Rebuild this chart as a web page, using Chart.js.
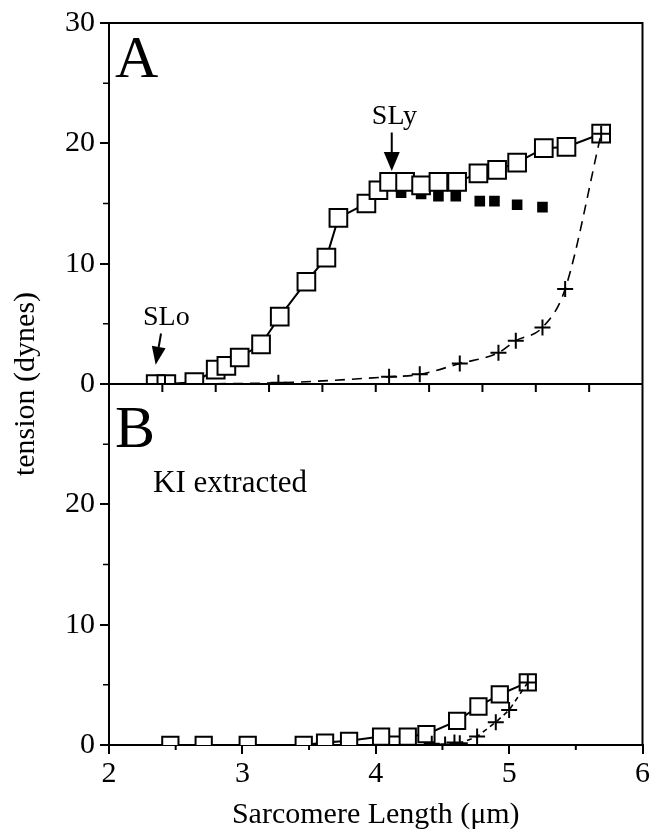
<!DOCTYPE html>
<html>
<head>
<meta charset="utf-8">
<title>Sarcomere length vs tension</title>
<script src="https://cdn.jsdelivr.net/npm/chart.js@4.4.1/dist/chart.umd.min.js"></script>
<style>
  html, body { margin: 0; padding: 0; background: #fff; }
</style>
</head>
<body>
<canvas id="sarcChart" width="657" height="833"></canvas>
<script>
// Panel A: open squares (solid line)
const aLength  = [2.35, 2.43, 2.64, 2.80, 2.88, 2.98, 3.14, 3.28, 3.48, 3.63, 3.72, 3.93, 4.02, 4.10, 4.22, 4.34, 4.47, 4.61, 4.77, 4.91, 5.06, 5.26, 5.43, 5.69];
const aTension = [0, 0, 0.15, 1.2, 1.5, 2.2, 3.3, 5.6, 8.5, 10.5, 13.8, 15.0, 16.1, 16.8, 16.8, 16.5, 16.8, 16.8, 17.5, 17.8, 18.4, 19.6, 19.7, 20.8];

// Panel A: filled squares (no line)
const aHeldLength  = [4.19, 4.34, 4.47, 4.60, 4.78, 4.89, 5.06, 5.25];
const aHeldTension = [15.9, 15.8, 15.6, 15.6, 15.2, 15.2, 14.9, 14.7];

// Panel A: crosses (dashed line)
const aRestLength  = [2.42, 3.27, 4.10, 4.33, 4.63, 4.92, 5.05, 5.25, 5.42, 5.69];
const aRestTension = [0, 0.1, 0.6, 0.8, 1.7, 2.6, 3.6, 4.7, 7.9, 20.8];

// Panel B (KI extracted): open squares
const bLength  = [2.46, 2.71, 3.04, 3.46, 3.62, 3.80, 4.04, 4.24, 4.38, 4.61, 4.77, 4.93, 5.14];
const bTension = [0, 0, 0, 0, 0.2, 0.35, 0.7, 0.7, 0.9, 2.0, 3.2, 4.2, 5.2];

// Panel B: crosses
const bRestLength  = [4.42, 4.52, 4.59, 4.63, 4.76, 4.90, 5.00, 5.14];
const bRestTension = [0.1, 0.05, 0.2, 0.15, 0.7, 1.9, 2.9, 5.2];

const xTicks = [2, 3, 4, 5, 6];
const yTicks = [0, 10, 20, 30];

const serif = "'Liberation Serif', 'Times New Roman', serif";
const toPoints = (xs, ys) => xs.map((x, i) => ({ x: x, y: ys[i] }));

// open squares, white filled
function squareSet(xs, ys, axis, size) {
  return {
    data: toPoints(xs, ys),
    yAxisID: axis,
    order: 1,
    showLine: true,
    borderColor: "#000",
    borderWidth: 2,
    pointStyle: "rect",
    pointRadius: size,
    pointBackgroundColor: "#fff",
    pointBorderColor: "#000",
    pointBorderWidth: 2,
  };
}

function crossSet(xs, ys, axis, dash, smooth) {
  return {
    data: toPoints(xs, ys),
    yAxisID: axis,
    order: 0,
    showLine: true,
    borderColor: "#000",
    borderWidth: 1.6,
    borderDash: dash,
    cubicInterpolationMode: smooth ? "monotone" : "default",
    pointStyle: "cross",
    pointRadius: 8,
    pointBorderColor: "#000",
    pointBorderWidth: 2,
  };
}

const yAxis = (hideTop) => ({
  type: "linear",
  position: "left",
  stack: "panels",
  stackWeight: 1,
  min: 0,
  max: 30,
  afterBuildTicks: (s) => { s.ticks = yTicks.map((v) => ({ value: v })); },
  ticks: {
    color: "#000",
    padding: 5,
    font: { family: serif, size: 30 },
    callback: (v) => (hideTop && v === 30 ? "" : v),
  },
  grid: { drawOnChartArea: false, tickLength: 9, color: "#000", lineWidth: 2 },
  border: { color: "#000", width: 2 },
  afterFit: (s) => { s.width = 109; },
});

// box, middle divider and minor ticks
const framePlugin = {
  id: "frame",
  afterDraw(chart) {
    const { ctx, chartArea: a, scales } = chart;
    const mid = scales.yA.getPixelForValue(0);
    ctx.save();
    ctx.strokeStyle = "#000";
    ctx.lineWidth = 2;
    ctx.beginPath();
    ctx.moveTo(a.left, a.top); ctx.lineTo(a.right, a.top); ctx.lineTo(a.right, a.bottom);
    ctx.moveTo(a.left, mid); ctx.lineTo(a.right, mid);
    // ticks under panel A
    for (let v = 2.4; v < 5.9; v += 0.4) {
      const px = scales.x.getPixelForValue(v);
      ctx.moveTo(px, mid); ctx.lineTo(px, mid + 8);
    }
    // minor x ticks
    for (let v = 2.5; v < 6; v += 1) {
      const px = scales.x.getPixelForValue(v);
      ctx.moveTo(px, a.bottom); ctx.lineTo(px, a.bottom + 5);
    }
    ctx.stroke();
    ctx.lineWidth = 1.5;
    ctx.beginPath();
    for (const id of ["yA", "yB"]) {
      for (let v = 5; v < 30; v += 10) {
        const py = scales[id].getPixelForValue(v);
        ctx.moveTo(a.left, py); ctx.lineTo(a.left - 6, py);
      }
    }
    ctx.stroke();
    ctx.restore();
  },
};

function arrow(ctx, x1, y1, x2, y2, head, half) {
  const ang = Math.atan2(y2 - y1, x2 - x1);
  const bx = x2 - head * Math.cos(ang), by = y2 - head * Math.sin(ang);
  ctx.beginPath();
  ctx.moveTo(x1, y1); ctx.lineTo(bx, by);
  ctx.stroke();
  ctx.beginPath();
  ctx.moveTo(x2, y2);
  ctx.lineTo(bx + half * Math.sin(ang), by - half * Math.cos(ang));
  ctx.lineTo(bx - half * Math.sin(ang), by + half * Math.cos(ang));
  ctx.closePath();
  ctx.fill();
}

// panel letters, notes and y title
const labelPlugin = {
  id: "labels",
  afterDraw(chart) {
    const { ctx, chartArea: a, scales } = chart;
    const x = scales.x, yA = scales.yA;
    const mid = yA.getPixelForValue(0);
    ctx.save();
    ctx.fillStyle = "#000";
    ctx.strokeStyle = "#000";
    ctx.textBaseline = "alphabetic";
    ctx.font = "60px " + serif;
    ctx.textAlign = "left";
    ctx.fillText("A", a.left + 6, a.top + 54);
    ctx.fillText("B", a.left + 6, mid + 63);
    ctx.font = "31px " + serif;
    ctx.fillText("KI extracted", a.left + 44, mid + 108);

    ctx.font = "28px " + serif;
    ctx.textAlign = "center";
    ctx.fillText("SLy", x.getPixelForValue(4.14), yA.getPixelForValue(21.6));
    ctx.fillText("SLo", x.getPixelForValue(2.43), yA.getPixelForValue(4.9));
    ctx.lineWidth = 2;
    arrow(ctx, x.getPixelForValue(4.12), yA.getPixelForValue(20.9),
      x.getPixelForValue(4.12), yA.getPixelForValue(17.7), 19, 8);
    arrow(ctx, x.getPixelForValue(2.39), yA.getPixelForValue(4.2),
      x.getPixelForValue(2.35), yA.getPixelForValue(1.6), 18, 7);

    ctx.font = "30px " + serif;
    ctx.translate(26, (a.top + a.bottom) / 2);
    ctx.rotate(-Math.PI / 2);
    ctx.textBaseline = "middle";
    ctx.fillText("tension (dynes)", 0, 0);
    ctx.restore();
  },
};

const config = {
  type: "scatter",
  data: {
    datasets: [
      crossSet(aRestLength, aRestTension, "yA", [10, 7], true),
      squareSet(aLength, aTension, "yA", 12.5),
      {
        data: toPoints(aHeldLength, aHeldTension),
        yAxisID: "yA",
        order: 2,
        pointStyle: "rect",
        pointRadius: 7.5,
        pointBackgroundColor: "#000",
        pointBorderColor: "#000",
        pointBorderWidth: 0,
      },
      crossSet(bRestLength, bRestTension, "yB", [5, 4], false),
      squareSet(bLength, bTension, "yB", 11.5),
    ],
  },
  options: {
    responsive: false,
    animation: false,
    layout: { padding: { top: 21, right: 14, left: 0, bottom: 0 } },
    plugins: {
      legend: { display: false },
      tooltip: { enabled: false },
    },
    scales: {
      x: {
        type: "linear",
        min: 2,
        max: 6,
        afterBuildTicks: (s) => { s.ticks = xTicks.map((v) => ({ value: v })); },
        ticks: { color: "#000", padding: 2, font: { family: serif, size: 30 } },
        grid: { drawOnChartArea: false, tickLength: 9, color: "#000", lineWidth: 2 },
        border: { color: "#000", width: 2 },
        title: {
          display: true,
          text: "Sarcomere Length (μm)",
          color: "#000",
          font: { family: serif, size: 30 },
          padding: { top: 0, bottom: 0 },
        },
        afterFit: (s) => { s.height = 88; },
      },
      yB: yAxis(true),
      yA: yAxis(false),
    },
  },
  plugins: [framePlugin, labelPlugin],
};

const sarcChart = new Chart(document.getElementById("sarcChart"), config);
</script>
</body>
</html>
